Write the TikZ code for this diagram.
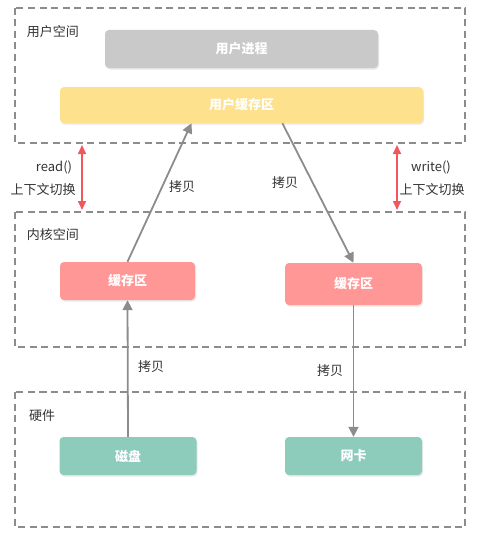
\documentclass[tikz,border=0pt]{standalone}
\usepackage{fontspec}
\setmainfont{Noto Sans CJK SC}
\usepackage{tikz}
\usetikzlibrary{arrows.meta,shadows}
\definecolor{procgray}{HTML}{C9C9C9}
\definecolor{ubufyellow}{HTML}{FDE18C}
\definecolor{kbufred}{HTML}{FF9796}
\definecolor{hwgreen}{HTML}{8DCBBB}
\definecolor{linegray}{HTML}{8C8C8C}
\definecolor{switchred}{HTML}{F0585C}
\definecolor{txtgray}{HTML}{333333}

\begin{document}
\begin{tikzpicture}[
        x=1pt, y=-1pt,
        every node/.append style={font=\fontsize{13}{15}\selectfont}
    ]
    \tikzstyle{area}=[draw=linegray,line width=1.6pt,dash pattern=on 7pt off 4.5pt];
    \tikzstyle{blk}=[rounded corners=4pt,text=white,font=\fontsize{13}{15}\selectfont\bfseries,
        drop shadow={opacity=0.18,shadow xshift=1pt,shadow yshift=-1.5pt}];
    \tikzstyle{cp}=[draw=linegray,line width=1.8pt,-{Triangle[length=10pt,width=10pt]}];
    \tikzstyle{sw}=[draw=switchred,line width=1.6pt,{Triangle[length=9pt,width=8pt]}-{Triangle[length=9pt,width=8pt]}];
    \tikzstyle{lbl}=[text=txtgray];
    \useasboundingbox (0,0) rectangle (480,535);
    % user space
    \draw[area] (15,8) rectangle (465,143);
    \node[lbl] (user) at (53,32) {用户空间};
    \node[blk,fill=procgray,minimum width=273pt,minimum height=38pt] (proc) at (241.5,49) {用户进程};
    \node[blk,fill=ubufyellow,minimum width=363pt,minimum height=36pt] (ubuf) at (241.5,105) {用户缓存区};
    % kernel space
    \draw[area] (15,212) rectangle (465,347);
    \node[lbl] (kernel) at (53,235) {内核空间};
    \node[blk,fill=kbufred,minimum width=135pt,minimum height=38pt] (kbufl) at (127.5,281) {缓存区};
    \node[blk,fill=kbufred,minimum width=137pt,minimum height=42pt] (kbufr) at (353.5,284) {缓存区};
    % hardware
    \draw[area] (15,392) rectangle (465,527);
    \node[lbl] (hw) at (42,416) {硬件};
    \node[blk,fill=hwgreen,minimum width=137pt,minimum height=38pt] (disk) at (128,456) {磁盘};
    \node[blk,fill=hwgreen,minimum width=137pt,minimum height=38pt] (nic) at (353.5,456) {网卡};
    % copies
    \draw[cp] (disk.north) -- (kbufl.south);
    \draw[cp] (kbufl.north) -- (ubuf.200);
    \draw[cp] (ubuf.336) -- (kbufr.north);
    \draw[cp] (kbufr.south) -- (nic.north);
    \node[lbl] (cp1) at (151,367) {拷贝};
    \node[lbl] (cp2) at (182,187) {拷贝};
    \node[lbl] (cp3) at (285,183) {拷贝};
    \node[lbl] (cp4) at (330,371) {拷贝};
    % context switches
    \coordinate (rd1) at (82,145);
    \coordinate (rd2) at (82,210);
    \coordinate (wr1) at (397,145);
    \coordinate (wr2) at (397,210);
    \draw[sw] (rd1) -- (rd2);
    \draw[sw] (wr1) -- (wr2);
    \node[lbl] (read) at (54,167) {read()};
    \node[lbl] (rdsw) at (43,190) {上下文切换};
    \node[lbl] (write) at (431,167) {write()};
    \node[lbl] (wrsw) at (432,190) {上下文切换};
\end{tikzpicture}
\end{document}
